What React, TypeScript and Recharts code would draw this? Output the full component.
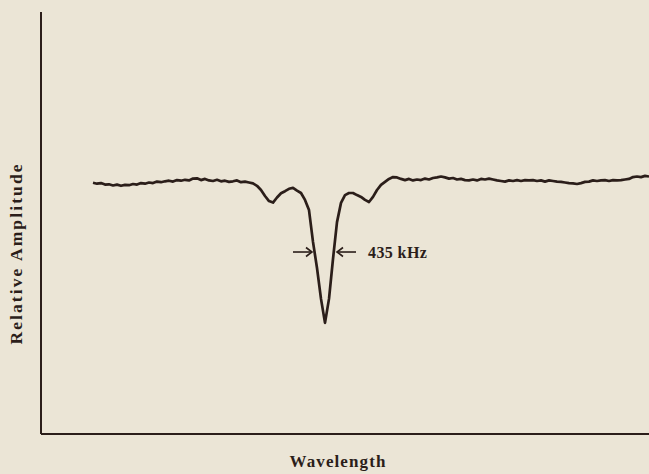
import React from 'react';
import { LineChart, Line, XAxis, YAxis, ReferenceLine, ReferenceDot, Customized } from 'recharts';

// Wavelength positions (arbitrary units) and relative amplitude (arbitrary units)
const wavelength: number[] = Array.from({ length: 140 }, (_, i) => 13 + i);

const amplitudeLeft: number[] = [
  84.4, 84.1, 84.3, 83.8, 83.9, 83.5, 83.8, 83.4, 83.7, 83.6,
  84.0, 83.8, 84.3, 84.1, 84.5, 84.3, 84.8, 84.6, 84.9, 85.1,
  84.8, 85.3, 85.1, 85.4, 85.2, 85.8, 85.9, 85.3, 85.7, 85.2,
  85.0, 85.4, 84.9, 85.1, 84.7, 84.9, 85.2, 84.6, 84.8, 84.5,
  84.2, 83.4, 82.0, 80.0, 78.3, 77.8, 79.5, 80.9, 81.6, 82.4,
  82.7, 81.8,
];
const amplitudeDip: number[] = [
  81.0, 78.7, 75.3, 64.7, 56.0, 45.7, 37.7, 45.7, 59.0, 71.3,
  77.7, 80.3, 81.0, 81.0, 80.3, 79.7, 78.7, 78.0, 79.7, 82.0,
  83.7, 84.7, 85.7, 86.3, 86.2, 85.7,
];
const amplitudeRight: number[] = [
  85.3, 85.7, 85.2, 85.5, 85.3, 85.8, 85.5, 86.0, 86.2, 86.5,
  86.2, 85.8, 86.0, 85.5, 85.7, 85.3, 85.2, 85.5, 85.2, 85.7,
  85.5, 85.8, 85.5, 85.2, 85.0, 84.8, 85.2, 85.0, 85.3, 85.0,
  85.3, 85.2, 85.3, 85.0, 85.2, 84.8, 85.2, 85.0, 84.8, 84.7,
  84.5, 84.3, 84.2, 84.0, 84.3, 84.7, 84.8, 85.2, 85.0, 85.2,
  85.3, 85.0, 85.3, 85.2, 85.3, 85.5, 85.7, 86.3, 86.5, 86.3,
  86.7, 86.5,
];
const amplitude: number[] = [...amplitudeLeft, ...amplitudeDip, ...amplitudeRight];

// FWHM annotation
const fwhmLabel = '435 kHz';
const fwhmLeftArrow = { from: 63, to: 67.75, level: 61.33 };
const fwhmRightArrow = { from: 78.75, to: 74, level: 61.33 };
const fwhmText = { u: 81.75, level: 59.33 };

const data = wavelength.map((u, i) => ({ u, a: amplitude[i] }));

const INK = '#2b1e1a';
const BG = '#ebe5d6';

const Arrow = (p: any) => {
  const { x1, y1, x2, y2 } = p;
  const dir = x2 > x1 ? 1 : -1;
  return (
    <g>
      <line x1={x1} y1={y1} x2={x2} y2={y2} stroke={INK} strokeWidth={1.6} />
      <polyline
        points={`${x2 - dir * 6},${y2 - 4.5} ${x2},${y2} ${x2 - dir * 6},${y2 + 4.5}`}
        fill="none"
        stroke={INK}
        strokeWidth={1.6}
      />
    </g>
  );
};

const Titles = () => (
  <g>
    <text
      x={338}
      y={467}
      textAnchor="middle"
      fontFamily="'Liberation Serif', serif"
      fontWeight="bold"
      fontSize={17}
      letterSpacing={1.1}
      fill={INK}
    >
      Wavelength
    </text>
    <text
      x={22}
      y={253.5}
      transform="rotate(-90, 22, 253.5)"
      textAnchor="middle"
      fontFamily="'Liberation Serif', serif"
      fontWeight="bold"
      fontSize={17.5}
      letterSpacing={2.1}
      fill={INK}
    >
      Relative Amplitude
    </text>
  </g>
);

export default function App() {
  return (
    <div style={{ position: 'absolute', left: 0, top: 0, width: 649, height: 474, background: BG }}>
      <LineChart width={649} height={474} data={data} margin={{ top: 12, right: 0, bottom: 0, left: 0 }}>
        <XAxis
          type="number"
          dataKey="u"
          domain={[0, 152]}
          tick={false}
          tickLine={false}
          height={40}
          axisLine={{ stroke: INK, strokeWidth: 2 }}
        />
        <YAxis
          type="number"
          domain={[2 / 3, 424 / 3]}
          tick={false}
          tickLine={false}
          width={41}
          axisLine={{ stroke: INK, strokeWidth: 2 }}
        />
        <Line
          dataKey="a"
          type="linear"
          stroke={INK}
          strokeWidth={2.7}
          dot={false}
          isAnimationActive={false}
          strokeLinejoin="round"
        />
        <ReferenceLine
          segment={[
            { x: fwhmLeftArrow.from, y: fwhmLeftArrow.level },
            { x: fwhmLeftArrow.to, y: fwhmLeftArrow.level },
          ]}
          shape={(p: any) => <Arrow {...p} />}
        />
        <ReferenceLine
          segment={[
            { x: fwhmRightArrow.from, y: fwhmRightArrow.level },
            { x: fwhmRightArrow.to, y: fwhmRightArrow.level },
          ]}
          shape={(p: any) => <Arrow {...p} />}
        />
        <ReferenceDot
          x={fwhmText.u}
          y={fwhmText.level}
          r={0}
          shape={(p: any) => (
            <text
              x={p.cx}
              y={p.cy}
              fontFamily="'Liberation Serif', serif"
              fontWeight="bold"
              fontSize={16}
              letterSpacing={0.4}
              fill={INK}
            >
              {fwhmLabel}
            </text>
          )}
        />
        <Customized component={Titles} />
      </LineChart>
    </div>
  );
}
